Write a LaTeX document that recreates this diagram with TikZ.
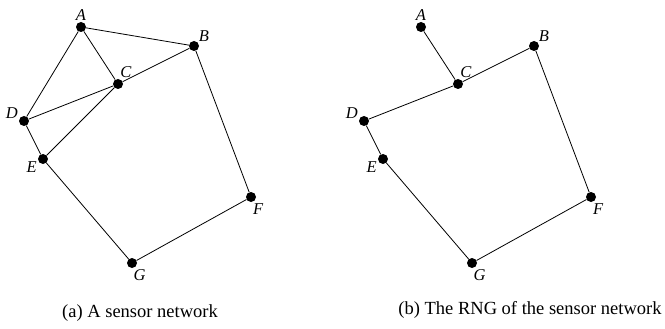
\documentclass[tikz,border=0pt]{standalone}
\usepackage{fontspec}
\setmainfont{Liberation Serif}
\usepackage{tikz}
\usetikzlibrary{positioning}

\begin{document}
\begin{tikzpicture}[
    x=1pt, y=-1pt,
    sensor/.style={circle, fill=black, inner sep=0pt, minimum size=10pt},
    tag/.style={font=\fontsize{16.5}{16.5}\selectfont\itshape, inner sep=1pt},
    link/.style={line width=0.8pt},
    caption/.style={font=\fontsize{18.5}{18.5}\selectfont}
]
\useasboundingbox (0,0) rectangle (665,329);

% (a) sensor network
\node[sensor, label={[tag]92:A}] (a1) at (81,27) {};
\node[sensor, label={[tag]45:B}] (b1) at (194,46) {};
\node[sensor, label={[tag]78:C}] (c1) at (118,84) {};
\node[sensor, label={[tag]164:D}] (d1) at (24,121) {};
\node[sensor, label={[tag]195:E}] (e1) at (43,159) {};
\node[sensor, label={[tag]-80:F}] (f1) at (251,197) {};
\node[sensor, label={[tag]-85:G}] (g1) at (132,263) {};

\draw[link] (a1) -- (b1);
\draw[link] (a1) -- (c1);
\draw[link] (a1) -- (d1);
\draw[link] (d1) -- (c1);
\draw[link] (c1) -- (b1);
\draw[link] (e1) -- (c1);
\draw[link] (d1) -- (e1);
\draw[link] (e1) -- (g1);
\draw[link] (g1) -- (f1);
\draw[link] (f1) -- (b1);

\node[caption] (capa) at (140,313) {(a) A sensor network};

% (b) RNG
\node[sensor, label={[tag]92:A}] (a2) at (421,27) {};
\node[sensor, label={[tag]45:B}] (b2) at (534,46) {};
\node[sensor, label={[tag]78:C}] (c2) at (458,84) {};
\node[sensor, label={[tag]164:D}] (d2) at (364,121) {};
\node[sensor, label={[tag]195:E}] (e2) at (383,159) {};
\node[sensor, label={[tag]-80:F}] (f2) at (591,197) {};
\node[sensor, label={[tag]-85:G}] (g2) at (472,263) {};

\draw[link] (a2) -- (c2);
\draw[link] (c2) -- (b2);
\draw[link] (d2) -- (c2);
\draw[link] (d2) -- (e2);
\draw[link] (e2) -- (g2);
\draw[link] (g2) -- (f2);
\draw[link] (f2) -- (b2);

\node[caption] (capb) at (530,310) {(b) The RNG of the sensor network};

\end{tikzpicture}
\end{document}
